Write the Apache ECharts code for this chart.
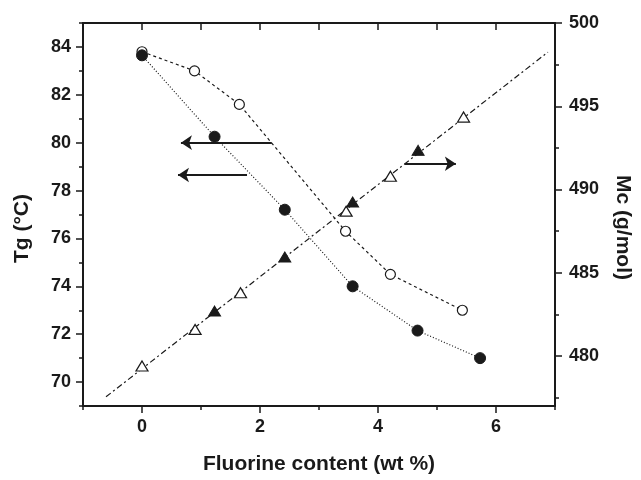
<!DOCTYPE html>
<html>
<head>
<meta charset="utf-8">
<title>Tg and Mc vs fluorine content</title>
<script src="https://cdn.jsdelivr.net/npm/echarts@6/dist/echarts.min.js"></script>
<style>
html, body { margin: 0; padding: 0; background: #fff; }
#chart { width: 641px; height: 480px; }
</style>
</head>
<body>
<div id="chart"></div>
<script>
// data
var openFluorine = [0, 0.89, 1.65, 3.45, 4.21, 5.43];
var tgOpen = [83.8, 83.0, 81.6, 76.3, 74.5, 73.0];
var filledFluorine = [0, 1.23, 2.42, 3.57, 4.67, 5.73];
var tgFilled = [83.65, 80.25, 77.2, 74.0, 72.15, 71.0];
var mcOpenFluorine = [0, 0.9, 1.67, 3.46, 4.21, 5.45];
var mcOpen = [479.4, 481.6, 483.8, 488.7, 490.8, 494.35];
var mcFilledFluorine = [1.23, 2.42, 3.57, 4.68];
var mcFilled = [482.7, 485.95, 489.25, 492.35];
var fitFluorine = [-0.61, 6.88];
var fitMc = [477.55, 498.25];

// tick labels
var xMajor = [0, 2, 4, 6];
var xMinor = [-1, 1, 3, 5, 7];
var tgMajor = [70, 72, 74, 76, 78, 80, 82, 84];
var tgMinor = [69, 71, 73, 75, 77, 79, 81, 83, 85];
var mcMajor = [480, 485, 490, 495, 500];
var mcMinor = [477.5, 482.5, 487.5, 492.5, 497.5];

// arrows: [from, to]
var leftArrows = [[[2.2, 80.0], [0.66, 80.0]], [[1.78, 78.65], [0.61, 78.65]]];
var rightArrows = [[[4.45, 491.55], [5.32, 491.55]]];

var INK = '#1a1a1a';
var FONT = 'Liberation Sans, Arial, sans-serif';
var labelFont = {
	color: INK,
	fontSize: 18,
	fontWeight: 'bold',
	fontFamily: FONT
};

function zip(xs, ys){
	var out = [];
	for(var i = 0; i < xs.length; i++){
		out.push([xs[i], ys[i]]);
	}
	return out;
}

function arrowData(list){
	var out = [];
	for(var i = 0; i < list.length; i++){
		out.push([{coord: list[i][0]}, {coord: list[i][1]}]);
	}
	return out;
}

//axis helper, main = labels + long ticks, else short ticks only
function makeAxis(pos, min, max, values, main, inside, labelMargin){
	return {
		type: 'value',
		position: pos,
		min: min,
		max: max,
		scale: true,
		splitLine: {show: false},
		axisLine: {show: main, onZero: false, lineStyle: {color: INK, width: 2}},
		axisTick: {
			show: true,
			inside: inside,
			length: main ? 7 : 4,
			lineStyle: {color: INK, width: 1.5},
			customValues: values
		},
		axisLabel: {
			show: main && !inside,
			margin: labelMargin || 12,
			customValues: values,
			color: labelFont.color,
			fontSize: labelFont.fontSize,
			fontWeight: labelFont.fontWeight,
			fontFamily: labelFont.fontFamily
		}
	};
}

function nameStyle(padding){
	return {color: INK, fontSize: 21, fontWeight: 'bold', fontFamily: FONT, padding: padding};
}

var xBottom = makeAxis('bottom', -1, 7, xMajor, true, false, 12);
xBottom.name = 'Fluorine content (wt %)';
xBottom.nameLocation = 'middle';
xBottom.nameGap = 48;
xBottom.nameTextStyle = nameStyle([0, 0, 0, 0]);

var yLeft = makeAxis('left', 69, 85, tgMajor, true, false, 12);
yLeft.name = 'Tg (°C)';
yLeft.nameLocation = 'middle';
yLeft.nameGap = 50;
yLeft.nameTextStyle = nameStyle([0, 28, 0, 0]);

var yRight = makeAxis('right', 477, 500, mcMajor, true, false, 14);
yRight.name = 'Mc (g/mol)';
yRight.nameLocation = 'middle';
yRight.nameGap = 57;
yRight.nameRotate = -90;
yRight.nameTextStyle = nameStyle([0, 0, 0, 26]);

var option = {
	animation: false,
	backgroundColor: '#fff',
	grid: {left: 83, right: 78, top: 23, bottom: 69, containLabel: false},
	xAxis: [
		xBottom,
		makeAxis('top', -1, 7, [0, 1, 2, 3, 4, 5, 6], true, true),
		makeAxis('bottom', -1, 7, xMinor, false, false)
	],
	yAxis: [
		yLeft,
		yRight,
		makeAxis('left', 69, 85, tgMinor, false, false),
		makeAxis('right', 477, 500, mcMinor, false, false)
	],
	series: [
		{
			name: 'fit',
			type: 'line',
			xAxisIndex: 0,
			yAxisIndex: 1,
			data: zip(fitFluorine, fitMc),
			symbol: 'none',
			silent: true,
			lineStyle: {color: INK, width: 1.2, type: [6, 3, 2, 3]},
			z: 1
		},
		{
			name: 'Tg open',
			type: 'line',
			xAxisIndex: 0,
			yAxisIndex: 0,
			data: zip(openFluorine, tgOpen),
			symbol: 'circle',
			symbolSize: 10,
			itemStyle: {color: '#fff', borderColor: INK, borderWidth: 1.2, opacity: 1},
			lineStyle: {color: INK, width: 1.2, type: [3, 3]},
			z: 3
		},
		{
			name: 'Tg filled',
			type: 'line',
			xAxisIndex: 0,
			yAxisIndex: 0,
			data: zip(filledFluorine, tgFilled),
			symbol: 'circle',
			symbolSize: 11,
			itemStyle: {color: INK, borderColor: INK, borderWidth: 1, opacity: 1},
			lineStyle: {color: INK, width: 1.2, type: [1, 2]},
			z: 3
		},
		{
			name: 'Mc open',
			type: 'scatter',
			xAxisIndex: 0,
			yAxisIndex: 1,
			data: zip(mcOpenFluorine, mcOpen),
			symbol: 'triangle',
			symbolSize: [12, 10],
			itemStyle: {color: '#fff', borderColor: INK, borderWidth: 1.2, opacity: 1},
			z: 4
		},
		{
			name: 'Mc filled',
			type: 'scatter',
			xAxisIndex: 0,
			yAxisIndex: 1,
			data: zip(mcFilledFluorine, mcFilled),
			symbol: 'triangle',
			symbolSize: [12, 10],
			itemStyle: {color: INK, borderColor: INK, borderWidth: 1, opacity: 1},
			z: 4
		},
		{
			name: 'arrows left',
			type: 'line',
			xAxisIndex: 0,
			yAxisIndex: 0,
			data: [],
			markLine: {
				silent: true,
				animation: false,
				symbol: ['none', 'arrow'],
				symbolSize: 11,
				label: {show: false},
				lineStyle: {color: INK, width: 2, type: 'solid'},
				data: arrowData(leftArrows)
			}
		},
		{
			name: 'arrows right',
			type: 'line',
			xAxisIndex: 0,
			yAxisIndex: 1,
			data: [],
			markLine: {
				silent: true,
				animation: false,
				symbol: ['none', 'arrow'],
				symbolSize: 11,
				label: {show: false},
				lineStyle: {color: INK, width: 2, type: 'solid'},
				data: arrowData(rightArrows)
			}
		}
	]
};

var myChart = echarts.init(document.getElementById('chart'));
myChart.setOption(option, true);
</script>
</body>
</html>
